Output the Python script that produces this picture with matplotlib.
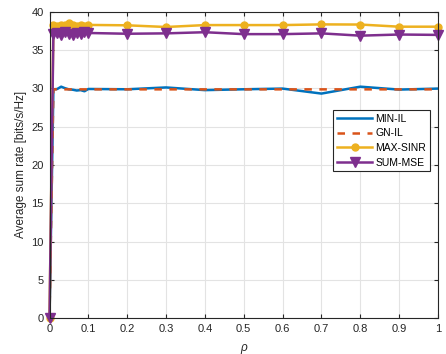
import matplotlib
matplotlib.use("Agg")
import matplotlib.pyplot as plt

plt.rcParams['font.family'] = ['Liberation Sans', 'DejaVu Sans']

rho = [0, 0.01, 0.02, 0.03, 0.04, 0.05, 0.06, 0.07, 0.08, 0.09, 0.1,
       0.2, 0.3, 0.4, 0.5, 0.6, 0.7, 0.8, 0.9, 1.0]
min_il = [0, 29.85, 29.9, 30.2, 30.0, 29.85, 29.8, 29.7, 29.75, 29.6, 29.9,
          29.86, 30.1, 29.75, 29.86, 29.95, 29.3, 30.2, 29.82, 29.95]
gn_il = [0, 29.85, 29.85, 29.9, 29.85, 29.85, 29.85, 29.85, 29.85, 29.85, 29.85,
         29.85, 29.85, 29.85, 29.85, 29.85, 29.85, 29.85, 29.85, 29.85]
max_sinr = [0, 38.2, 38.1, 38.25, 38.2, 38.45, 38.2, 38.15, 38.2, 38.1, 38.25,
            38.2, 37.98, 38.23, 38.23, 38.23, 38.32, 38.3, 38.02, 38.02]
sum_mse = [0, 37.1, 37.2, 37.0, 37.3, 37.1, 37.0, 37.2, 37.1, 37.3, 37.2,
           37.1, 37.15, 37.3, 37.05, 37.05, 37.15, 36.85, 37.0, 36.95]

labels = ['MIN-IL', 'GN-IL', 'MAX-SINR', 'SUM-MSE']
xticks = [0, 0.1, 0.2, 0.3, 0.4, 0.5, 0.6, 0.7, 0.8, 0.9, 1]
xticklabels = ['0', '0.1', '0.2', '0.3', '0.4', '0.5', '0.6', '0.7', '0.8', '0.9', '1']
yticks = [0, 5, 10, 15, 20, 25, 30, 35, 40]

fig = plt.figure(figsize=(4.46, 3.54), dpi=100)
ax = fig.add_axes([0.111, 0.1008, 0.871, 0.8667])

ax.plot(rho, min_il, color='#0072BD', lw=1.8, label=labels[0])
ax.plot(rho, gn_il, color='#D95319', lw=1.8, ls=(0, (3, 3)), label=labels[1])
ax.plot(rho, max_sinr, color='#EDB120', lw=1.8, marker='o', ms=5, label=labels[2],
        clip_on=False)
ax.plot(rho, sum_mse, color='#7E2F8E', lw=1.8, marker='v', ms=7, label=labels[3],
        clip_on=False)

ax.set_xlim(0, 1)
ax.set_ylim(0, 40)
ax.set_xticks(xticks)
ax.set_xticklabels(xticklabels)
ax.set_yticks(yticks)
ax.grid(True, color='#e3e3e3', lw=0.8)
ax.set_axisbelow(True)
ax.tick_params(direction='in', top=True, right=True, labelsize=8, colors='#262626',
               length=3, width=0.8, pad=4)
for s in ax.spines.values():
    s.set_color('#262626')
    s.set_linewidth(0.8)

ax.set_xlabel('ρ', fontsize=8.5, color='#262626', labelpad=6, style='italic')
ax.set_ylabel('Average sum rate [bits/s/Hz]', fontsize=8.5, color='#262626', labelpad=3)

leg = ax.legend(loc='upper right', bbox_to_anchor=(0.979, 0.679), borderaxespad=0,
                fontsize=7.5, handlelength=3.4, labelspacing=0.45, fancybox=False,
                framealpha=1, edgecolor='#262626', borderpad=0.35, handletextpad=0.3)
leg.get_frame().set_linewidth(0.8)

fig.savefig('out.png', dpi=100)
